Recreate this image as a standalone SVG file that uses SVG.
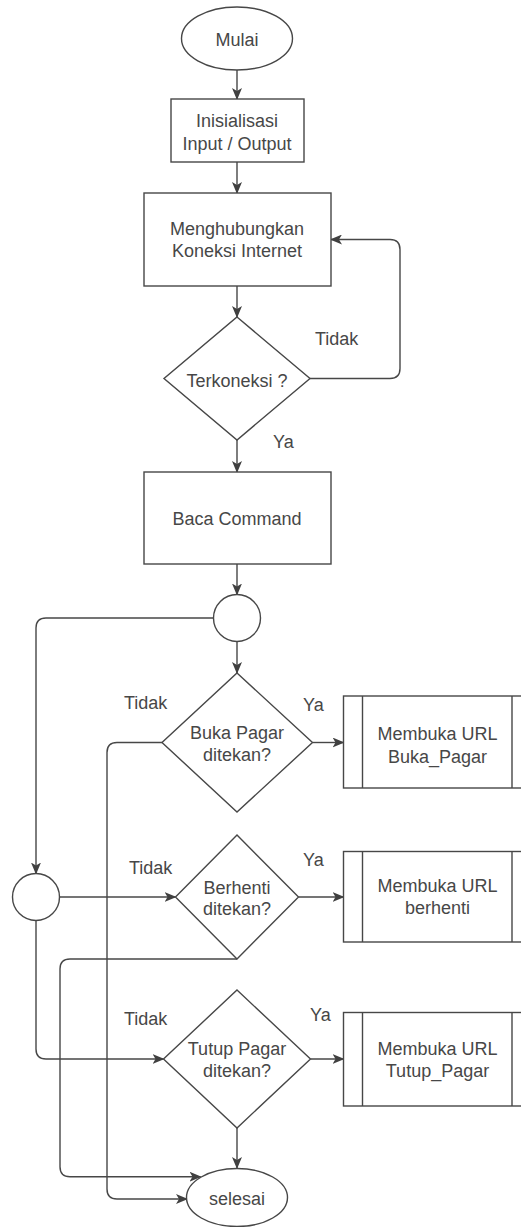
<svg xmlns="http://www.w3.org/2000/svg" width="521" height="1227" viewBox="0 0 521 1227">
  <style>
    .shape { fill: #ffffff; stroke: #474747; stroke-width: 1.4; }
    .edge { fill: none; stroke: #474747; stroke-width: 1.4; }
    .arrow { marker-end: url(#head); }
    text { font-family: "Liberation Sans", Arial, sans-serif; font-size: 18px; fill: #474747; }
    .c { text-anchor: middle; }
  </style>
  <defs>
    <marker id="head" markerUnits="userSpaceOnUse" markerWidth="12" markerHeight="10" viewBox="0 0 12 10" refX="11" refY="5" orient="auto">
      <path d="M0,0 L12,5 L0,10 L3,5 Z" fill="#404040"/>
    </marker>
  </defs>
  <rect width="521" height="1227" fill="#ffffff"/>

  <!-- connectors -->
  <g id="connectors">
    <path class="edge arrow" d="M237,70 L237,99"/>
    <path class="edge arrow" d="M237,162 L237,193"/>
    <path class="edge arrow" d="M237,286 L237,317"/>
    <path class="edge arrow" d="M237,440 L237,472"/>
    <path class="edge arrow" d="M310,378.5 L390,378.5 Q400,378.5 400,368.5 L400,249.5 Q400,239.5 390,239.5 L331,239.5"/>
    <path class="edge arrow" d="M237,564 L237,594.5"/>
    <path class="edge arrow" d="M237,641.5 L237,673"/>
    <path class="edge arrow" d="M213.5,618 L46,618 Q36,618 36,628 L36,873.5"/>
    <path class="edge arrow" d="M312.5,742.5 L343.5,742.5"/>
    <path class="edge arrow" d="M162,742.5 L117,742.5 Q107,742.5 107,752.5 L107,1189 Q107,1199 117,1199 L187,1199"/>
    <path class="edge arrow" d="M59.5,897 L175.5,897"/>
    <path class="edge arrow" d="M298.5,897 L343.5,897"/>
    <path class="edge arrow" d="M237,959 L70,959 Q60,959 60,969 L60,1166.7 Q60,1176.7 70,1176.7 L200.5,1176.7"/>
    <path class="edge arrow" d="M36,920.5 L36,1049 Q36,1059 46,1059 L163.5,1059"/>
    <path class="edge arrow" d="M310.5,1059 L343.5,1059"/>
    <path class="edge arrow" d="M237,1128 L237,1168"/>
  </g>

  <!-- edge labels -->
  <g id="labels">
    <text x="315" y="345">Tidak</text>
    <text x="273" y="448">Ya</text>
    <text x="124" y="708.5">Tidak</text>
    <text x="303" y="711">Ya</text>
    <text x="129" y="874">Tidak</text>
    <text x="303" y="866">Ya</text>
    <text x="124" y="1025">Tidak</text>
    <text x="310" y="1021">Ya</text>
  </g>

  <g id="mulai">
    <ellipse class="shape" cx="237" cy="38.5" rx="55.5" ry="31.5"/>
    <text class="c" x="237" y="46">Mulai</text>
  </g>

  <g id="inisialisasi">
    <rect class="shape" x="171" y="99" width="133" height="63"/>
    <text class="c" x="237" y="127">Inisialisasi</text>
    <text class="c" x="237" y="150">Input / Output</text>
  </g>

  <g id="koneksi">
    <rect class="shape" x="144" y="193" width="187" height="93"/>
    <text class="c" x="237" y="235">Menghubungkan</text>
    <text class="c" x="237" y="257">Koneksi Internet</text>
  </g>

  <g id="terkoneksi">
    <polygon class="shape" points="237,317 310,378.5 237,440 164,378.5"/>
    <text class="c" x="237" y="386.5">Terkoneksi ?</text>
  </g>

  <g id="baca-command">
    <rect class="shape" x="144" y="472" width="187" height="92"/>
    <text class="c" x="237" y="525">Baca Command</text>
  </g>

  <g id="titik-1">
    <circle class="shape" cx="237" cy="618" r="23.5"/>
  </g>

  <g id="buka-pagar">
    <polygon class="shape" points="237,673 312.5,742.5 237,812 162,742.5"/>
    <text class="c" x="237" y="738.5">Buka Pagar</text>
    <text class="c" x="237" y="760.5">ditekan?</text>
  </g>

  <g id="url-buka">
    <rect class="shape" x="343.5" y="696" width="188" height="92"/>
    <line class="edge" x1="362.5" y1="696" x2="362.5" y2="788"/>
    <line class="edge" x1="512" y1="696" x2="512" y2="788"/>
    <text class="c" x="437.5" y="740">Membuka URL</text>
    <text class="c" x="437.5" y="762.5">Buka_Pagar</text>
  </g>

  <g id="titik-2">
    <circle class="shape" cx="36" cy="897" r="23.5"/>
  </g>

  <g id="berhenti">
    <polygon class="shape" points="237,835 298.5,897 237,959 175.5,897"/>
    <text class="c" x="237" y="893.5">Berhenti</text>
    <text class="c" x="237" y="915">ditekan?</text>
  </g>

  <g id="url-berhenti">
    <rect class="shape" x="343.5" y="851.5" width="188" height="90.5"/>
    <line class="edge" x1="362.5" y1="851.5" x2="362.5" y2="942"/>
    <line class="edge" x1="512" y1="851.5" x2="512" y2="942"/>
    <text class="c" x="437.5" y="891.5">Membuka URL</text>
    <text class="c" x="437.5" y="913.5">berhenti</text>
  </g>

  <g id="tutup-pagar">
    <polygon class="shape" points="237,990 310.5,1059 237,1128 163.5,1059"/>
    <text class="c" x="237" y="1055">Tutup Pagar</text>
    <text class="c" x="237" y="1077">ditekan?</text>
  </g>

  <g id="url-tutup">
    <rect class="shape" x="343.5" y="1012.5" width="188" height="93.5"/>
    <line class="edge" x1="362.5" y1="1012.5" x2="362.5" y2="1106"/>
    <line class="edge" x1="512" y1="1012.5" x2="512" y2="1106"/>
    <text class="c" x="437.5" y="1055">Membuka URL</text>
    <text class="c" x="437.5" y="1077">Tutup_Pagar</text>
  </g>

  <g id="selesai">
    <ellipse class="shape" cx="237" cy="1197.5" rx="50.5" ry="29"/>
    <text class="c" x="237" y="1205">selesai</text>
  </g>
</svg>
